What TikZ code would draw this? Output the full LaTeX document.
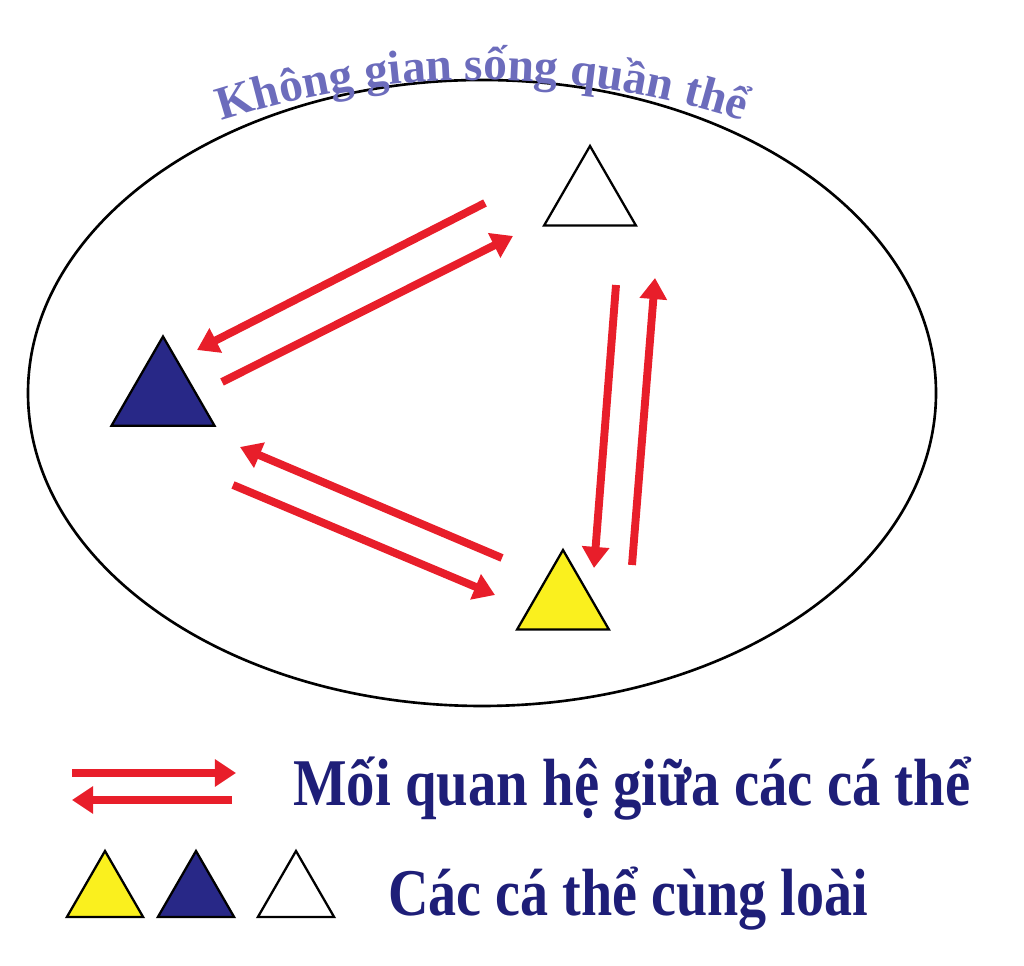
\documentclass[tikz,border=0pt]{standalone}
\usepackage{fontspec}
\setmainfont{Liberation Serif}
\usepackage{xcolor}
\usepackage{tikz}
\usetikzlibrary{arrows.meta,shapes.geometric,decorations.text,positioning}

\definecolor{arrowred}{RGB}{232,30,42}
\definecolor{navyfill}{RGB}{40,40,135}
\definecolor{yellowfill}{RGB}{250,240,30}
\definecolor{titleblue}{RGB}{108,108,188}
\definecolor{legendblue}{RGB}{30,30,120}

\begin{document}
\begin{tikzpicture}[x=0.02cm,y=0.02cm,
		rel/.style={line width=4.5pt, draw=arrowred, -{Triangle[length=12pt,width=15pt]}},
		indiv/.style={regular polygon, regular polygon sides=3, draw=black, line width=1.3pt, inner sep=0pt, minimum size=#1},
		legend/.style={anchor=base west, inner sep=0pt, text=legendblue, font=\fontsize{38}{40}\selectfont\bfseries}
	]
	\useasboundingbox (0,0) rectangle (1024,966);
	
	% khong gian song
	\draw [line width=1.5pt] (482,573) ellipse [x radius=454, y radius=313];
	\path [decorate, decoration={text along path, text align=center, text color=titleblue,
			text={|\fontsize{27}{29}\selectfont\bfseries|Không gian sống quần thể}}]
		(482,40) ++(109:846) arc [start angle=109, end angle=71, radius=846];
	
	% ca the
	\node [indiv=2.12cm, fill=white] (white) at (590,767) {};
	\node [indiv=2.38cm, fill=navyfill] (navy) at (163,570) {};
	\node [indiv=2.12cm, fill=yellowfill] (yellow) at (563,363) {};
	
	% moi quan he
	\coordinate (wn) at (485,763); \coordinate (nw) at (197,616);
	\coordinate (nw2) at (222,584); \coordinate (wn2) at (513,730);
	\coordinate (wy) at (616,681); \coordinate (yw) at (594,398);
	\coordinate (yw2) at (632,401); \coordinate (wy2) at (655,688);
	\coordinate (yn) at (502,408); \coordinate (ny) at (240,519);
	\coordinate (ny2) at (233,481); \coordinate (yn2) at (495,371);
	\draw [rel] (wn) -- (nw);
	\draw [rel] (nw2) -- (wn2);
	\draw [rel] (wy) -- (yw);
	\draw [rel] (yw2) -- (wy2);
	\draw [rel] (yn) -- (ny);
	\draw [rel] (ny2) -- (yn2);
	
	% chu thich
	\coordinate (keyA) at (72,193); \coordinate (keyB) at (236,193);
	\coordinate (keyC) at (232,166); \coordinate (keyD) at (72,166);
	\draw [rel, line width=4pt] (keyA) -- (keyB);
	\draw [rel, line width=4pt] (keyC) -- (keyD);
	\node [legend] (relkey) at (293,160) {\scalebox{0.85}[1]{Mối quan hệ giữa các cá thể}};
	
	\node [indiv=1.76cm, fill=yellowfill] (keyyellow) at (105,71) {};
	\node [indiv=1.76cm, fill=navyfill] (keynavy) at (196,71) {};
	\node [indiv=1.76cm, fill=white] (keywhite) at (296,71) {};
	\node [legend] (indkey) at (388,50) {\scalebox{0.84}[1]{Các cá thể cùng loài}};
\end{tikzpicture}
\end{document}
